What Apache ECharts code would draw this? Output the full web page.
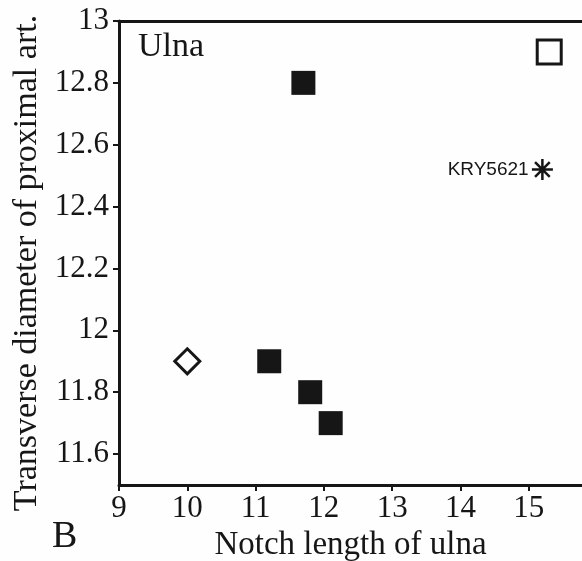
<!DOCTYPE html>
<html><head><meta charset="utf-8">
<script src="https://cdn.jsdelivr.net/npm/echarts@6/dist/echarts.min.js"></script>
<style>html,body{margin:0;padding:0;background:#fff}#c{width:582px;height:561px}</style>
</head><body><div id="c"></div>
<script>
// Data
const xTicks = [9, 10, 11, 12, 13, 14, 15];
const yTicks = [11.6, 11.8, 12, 12.2, 12.4, 12.6, 12.8, 13];
const filledSquares = [[11.7, 12.8], [11.2, 11.9], [11.8, 11.8], [12.1, 11.7]];
const openSquare = [[15.3, 12.9]];
const openDiamond = [[10.0, 11.9]];
const asterisk = [[15.2, 12.52]];
const asteriskLabel = 'KRY5621';
const panelTitle = 'Ulna';
const panelLetter = 'B';
const xName = 'Notch length of ulna';
const yName = 'Transverse diameter of proximal art.';

const ink = '#161616';
const serif = 'Liberation Serif';
const chart = echarts.init(document.getElementById('c'));
chart.setOption({
  backgroundColor: '#fefefe',
  animation: false,
  textStyle: {fontFamily: serif, color: ink},
  grid: {left: 119, right: 0, top: 21, bottom: 76, containLabel: false, outerBoundsMode: 'none'},
  xAxis: [{
    type: 'value', min: 9, max: 15.78, position: 'bottom',
    name: xName, nameLocation: 'middle', nameGap: 39,
    nameTextStyle: {fontFamily: serif, fontSize: 33, color: ink},
    axisLine: {show: true, onZero: false, lineStyle: {color: ink, width: 3}},
    axisTick: {show: true, length: 6, lineStyle: {color: ink, width: 2}, customValues: xTicks},
    axisLabel: {fontFamily: serif, fontSize: 31, color: ink, margin: 8, customValues: xTicks},
    splitLine: {show: false}
  }, {
    type: 'value', min: 9, max: 15.78, position: 'top',
    axisLine: {show: true, onZero: false, lineStyle: {color: ink, width: 3}},
    axisTick: {show: false}, axisLabel: {show: false}, splitLine: {show: false}
  }],
  yAxis: {
    type: 'value', min: 11.5, max: 13,
    name: yName, nameLocation: 'middle', nameGap: 70, nameRotate: 90,
    nameTextStyle: {fontFamily: serif, fontSize: 34, color: ink, padding: [0, 20, 0, 0]},
    axisLine: {show: true, onZero: false, lineStyle: {color: ink, width: 3}},
    axisTick: {show: true, length: 6, lineStyle: {color: ink, width: 2}, customValues: yTicks},
    axisLabel: {fontFamily: serif, fontSize: 31, color: ink, margin: 10, customValues: yTicks},
    splitLine: {show: false}
  },
  graphic: [
    {type: 'text', left: 138, top: 30, style: {text: panelTitle, fontFamily: serif, fontSize: 34, fill: ink}},
    {type: 'text', left: 52, top: 518, style: {text: panelLetter, fontFamily: serif, fontSize: 38, fill: ink}}
  ],
  series: [
    {type: 'scatter', data: filledSquares, symbol: 'rect', symbolSize: 24,
     itemStyle: {color: ink, opacity: 1}},
    {type: 'scatter', data: openSquare, symbol: 'rect', symbolSize: 24,
     itemStyle: {color: '#fefefe', borderColor: ink, borderWidth: 3, opacity: 1}},
    {type: 'scatter', data: openDiamond, symbol: 'diamond', symbolSize: 25,
     itemStyle: {color: '#fefefe', borderColor: ink, borderWidth: 3, opacity: 1}},
    {type: 'scatter', data: asterisk,
     symbol: 'path://M10,0L10,20M0,10L20,10M3,3L17,17M17,3L3,17', symbolSize: 21,
     itemStyle: {color: 'transparent', borderColor: ink, borderWidth: 2.5, opacity: 1},
     label: {show: true, position: 'left', distance: 2, formatter: asteriskLabel,
       fontFamily: 'Liberation Sans', fontSize: 19, color: ink}}
  ]
});
</script></body></html>
